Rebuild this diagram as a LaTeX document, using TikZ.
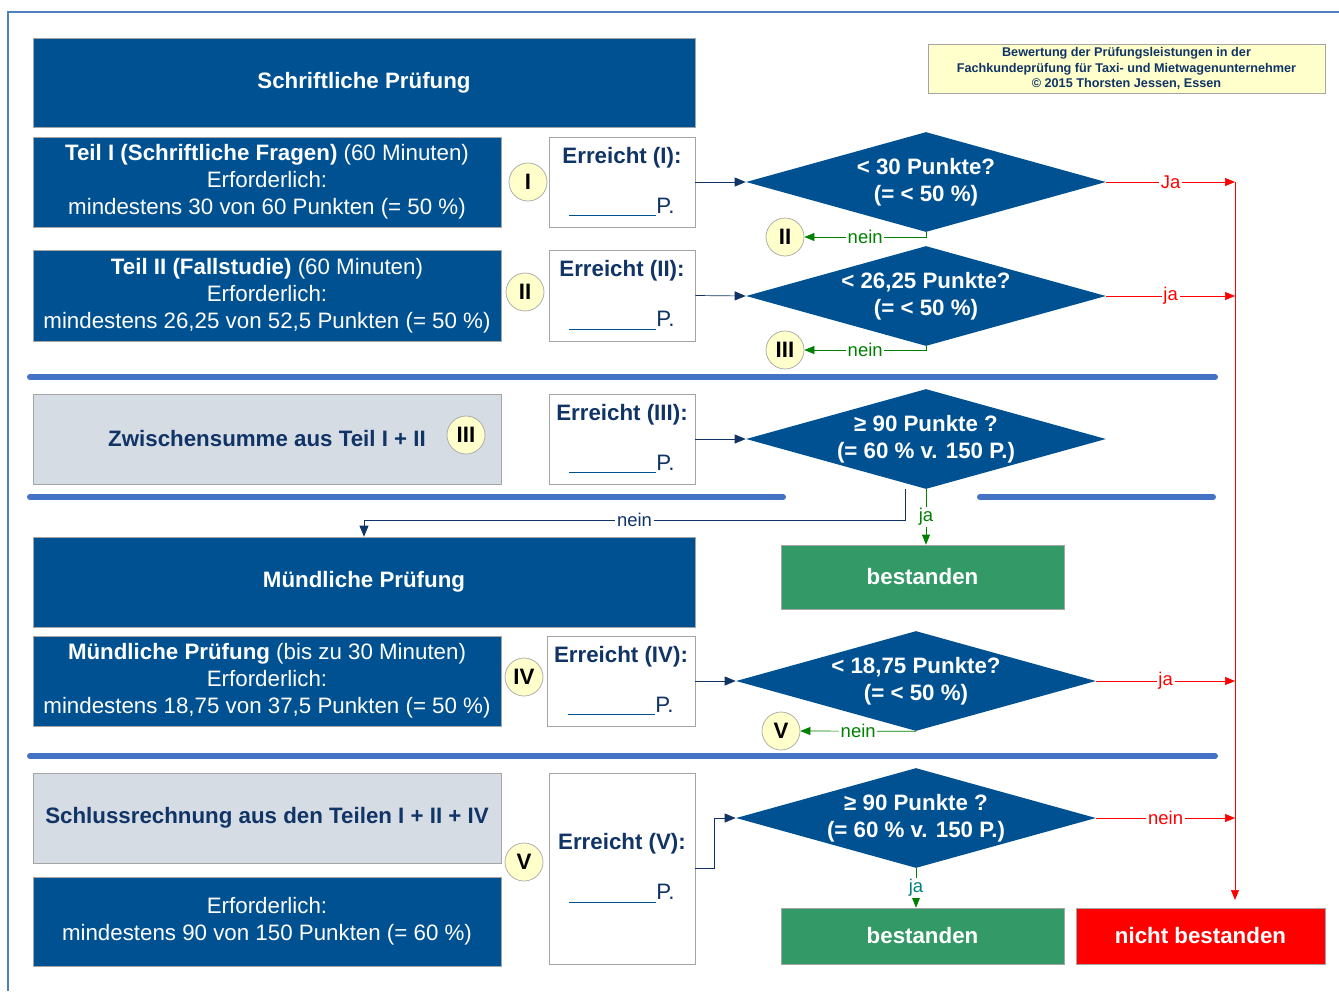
\documentclass[tikz,border=0pt]{standalone}
\usepackage{fontspec}
\setmainfont{Liberation Sans}
\usetikzlibrary{shapes.geometric, arrows.meta}
\definecolor{dunkelblau}{RGB}{0,81,145}
\definecolor{textblau}{RGB}{16,52,102}
\definecolor{trennblau}{RGB}{68,114,196}
\definecolor{hellgrau}{RGB}{214,220,228}
\definecolor{randgrau}{RGB}{165,165,165}
\definecolor{gruen}{RGB}{51,153,102}
\definecolor{neingruen}{RGB}{0,128,0}
\definecolor{jatuerkis}{RGB}{0,128,128}
\definecolor{gelb}{RGB}{255,255,204}
\definecolor{rahmen}{RGB}{79,129,189}
\newcommand{\groesse}{\fontsize{12.7}{15.3}\selectfont}
\newcommand{\luecke}{\textcolor{dunkelblau}{\underline{\hspace{1.74cm}}}P.}
\tikzset{
  gr/.style 2 args={minimum width=#1*0.02cm, minimum height=#2*0.02cm},
  kasten/.style={fill=dunkelblau, draw=randgrau, inner sep=0pt, text=white, align=center, font=\groesse},
  graukasten/.style={fill=hellgrau, draw=randgrau, inner sep=0pt, text=textblau, align=center, font=\groesse\bfseries},
  erreicht/.style={fill=white, draw=randgrau, inner sep=0pt, text=textblau, align=center, font=\groesse},
  raute/.style={diamond, fill=dunkelblau, inner xsep=-1.2cm, inner ysep=-0.4cm, minimum width=7.2cm, minimum height=2cm, text=white, align=center, font=\groesse\bfseries},
  kreis/.style={circle, fill=gelb, draw=randgrau, minimum size=0.76cm, inner sep=0pt, font=\groesse\bfseries},
  ergebnis/.style={fill=#1, draw=randgrau, inner sep=0pt, text=white, font=\groesse\bfseries},
  lab/.style={fill=white, inner sep=1pt, font=\fontsize{10.5}{12}\selectfont},
  pfeil/.style={draw=textblau, -{Triangle[length=0.22cm, width=0.18cm]}},
  rotpfeil/.style={draw=red, -{Triangle[length=0.2cm, width=0.16cm]}},
  gruenpfeil/.style={draw=neingruen, -{Triangle[length=0.2cm, width=0.16cm]}},
  trennlinie/.style={draw=trennblau, line width=0.12cm, line cap=round}
}

\begin{document}
\begin{tikzpicture}[x=0.02cm, y=-0.02cm]
    \useasboundingbox (0,0) rectangle (1339,991);
    \draw[rahmen, line width=0.8pt] (8,991) -- (8,12) -- (1339,12);

    \node[kasten, gr={662}{89}] (schriftl) at (364,82.5) {\bfseries Schriftliche Prüfung};
    \node[fill=gelb, draw=randgrau, inner sep=0pt, text=textblau, align=center, font=\fontsize{7.2}{8.8}\selectfont\bfseries, gr={397}{49}] (info) at (1126.5,68.5) {Bewertung der Prüfungsleistungen in der\\Fachkundeprüfung für Taxi- und Mietwagenunternehmer\\© 2015 Thorsten Jessen, Essen};

    \node[kasten, gr={468}{90}] (teil1) at (267,182) {\textbf{Teil I (Schriftliche Fragen)} (60 Minuten)\\Erforderlich:\\mindestens 30 von 60 Punkten (= 50 \%)};
    \node[erreicht, gr={146}{90}] (err1) at (622,182) {\textbf{Erreicht (I):}\\[13pt]\luecke};
    \node[kreis] (k1) at (528,182) {I};
    \node[raute] (r1) at (926,182) {< 30 Punkte?\\(= < 50 \%)};
    \node[kreis] (k2b) at (785,237) {II};

    \node[kasten, gr={468}{91}] (teil2) at (267,295.5) {\textbf{Teil II (Fallstudie)} (60 Minuten)\\Erforderlich:\\mindestens 26,25 von 52,5 Punkten (= 50 \%)};
    \node[erreicht, gr={146}{91}] (err2) at (622,295.5) {\textbf{Erreicht (II):}\\[13pt]\luecke};
    \node[kreis] (k2) at (525,292) {II};
    \node[raute] (r2) at (926,296) {< 26,25 Punkte?\\(= < 50 \%)};
    \node[kreis] (k3b) at (785,350) {III};

    \node[graukasten, gr={468}{90}] (zwischen) at (267,439) {Zwischensumme aus Teil I + II};
    \node[kreis] (k3) at (466,435) {III};
    \node[erreicht, gr={146}{90}] (err3) at (622,439) {\textbf{Erreicht (III):}\\[13pt]\luecke};
    \node[raute] (r3) at (926,439) {≥ 90 Punkte ?\\(= 60 \% v. 150 P.)};

    \node[kasten, gr={662}{90}] (muend) at (364,582) {\bfseries Mündliche Prüfung};
    \node[ergebnis=gruen, gr={283}{64}] (best1) at (922.5,577) {bestanden};

    \node[kasten, gr={468}{90}] (teil4) at (267,681) {\textbf{Mündliche Prüfung} (bis zu 30 Minuten)\\Erforderlich:\\mindestens 18,75 von 37,5 Punkten (= 50 \%)};
    \node[erreicht, gr={148}{90}] (err4) at (621,681) {\textbf{Erreicht (IV):}\\[13pt]\luecke};
    \node[kreis] (k4) at (524,677) {IV};
    \node[raute] (r4) at (916,681) {< 18,75 Punkte?\\(= < 50 \%)};
    \node[kreis] (k5b) at (781,731) {V};

    \node[graukasten, gr={468}{90}] (schluss) at (267,818) {Schlussrechnung aus den Teilen I + II + IV};
    \node[kasten, gr={468}{89}] (erf5) at (267,921.5) {Erforderlich:\\mindestens 90 von 150 Punkten (= 60 \%)};
    \node[kreis] (k5) at (524,862) {V};
    \node[erreicht, gr={146}{191}] (err5) at (622,868.5) {\textbf{Erreicht (V):}\\[13pt]\luecke};
    \node[raute] (r5) at (916,818) {≥ 90 Punkte ?\\(= 60 \% v. 150 P.)};
    \node[ergebnis=gruen, gr={283}{56}] (best2) at (922.5,936) {bestanden};
    \node[ergebnis=red, gr={249}{56}] (nicht) at (1200.5,936) {nicht bestanden};

    \draw[trennlinie] (30,377) -- (1215,377);
    \draw[trennlinie] (30,497) -- (783,497);
    \draw[trennlinie] (980,497) -- (1213,497);
    \draw[trennlinie] (30,756) -- (1215,756);

    \coordinate (oben) at (1235,182);
    \coordinate (unten) at (1235,900);
    \coordinate (knick) at (364,520);

    \draw[pfeil] (err1.east) -- (r1.west);
    \draw[pfeil] (err2.east) -- (r2.west);
    \draw[pfeil] (err3.east) -- (r3.west);
    \draw[pfeil] (err4.east) -- (r4.west);
    \draw[pfeil] (err5.east) -- ++(19,0) |- (r5.west);

    \draw[rotpfeil] (oben) -- (unten);
    \draw[rotpfeil] (r1.east) -- node[lab, text=red]{Ja} (r1.east -| oben);
    \draw[rotpfeil] (r2.east) -- node[lab, text=red]{ja} (r2.east -| oben);
    \draw[rotpfeil] (r4.east) -- node[lab, text=red]{ja} (r4.east -| oben);
    \draw[rotpfeil] (r5.east) -- node[lab, text=red]{nein} (r5.east -| oben);

    \draw[gruenpfeil] (r1.south) |- node[lab, text=neingruen, pos=0.75]{nein} (k2b.east);
    \draw[gruenpfeil] (r2.south) |- node[lab, text=neingruen, pos=0.75]{nein} (k3b.east);
    \draw[gruenpfeil] (r4.south) -- node[lab, text=neingruen]{nein} (k5b.east);
    \draw[gruenpfeil] (r3.south) -- node[lab, text=neingruen]{ja} (r3.south |- best1.north);
    \draw[gruenpfeil] (r5.south) -- node[lab, text=jatuerkis]{ja} (r5.south |- best2.north);
    \draw[pfeil] ([xshift=-0.42cm]r3.south) |- node[lab, text=textblau, pos=0.75]{nein} (knick) -- (muend.north);
\end{tikzpicture}
\end{document}
